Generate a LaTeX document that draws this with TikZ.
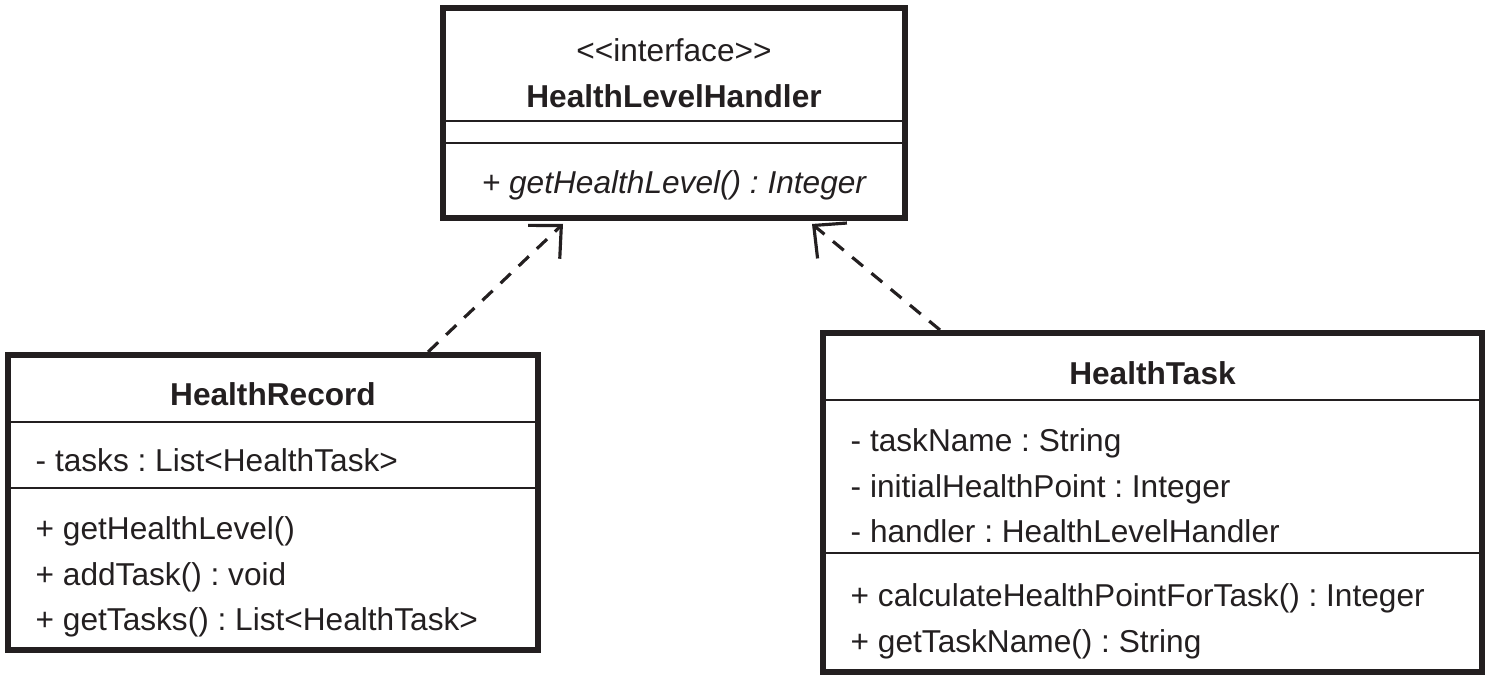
\documentclass[tikz,border=0pt]{standalone}
\usepackage{fontspec}
\setmainfont{Liberation Sans}
\usepackage{tikz}
\usetikzlibrary{positioning,arrows.meta}
\frenchspacing
\definecolor{INK}{HTML}{231F20}
\tikzstyle{cls}=[rectangle, draw=INK, line width=1.7pt, inner sep=0pt]
\tikzstyle{divider}=[draw=INK, line width=0.75pt]
\tikzstyle{member}=[rectangle, inner sep=0pt, minimum height=0.44cm, text height=2.6mm, text depth=0.4mm, text=INK, font=\fontsize{9}{11}\selectfont]
\tikzstyle{cname}=[member, font=\fontsize{9}{11}\selectfont\bfseries]
\tikzstyle{abstract}=[member, font=\fontsize{9}{11}\selectfont\itshape]
\tikzstyle{realize}=[draw=INK, line width=0.9pt, dash pattern=on 0.14cm off 0.11cm, -{Straight Barb[length=2.4mm, width=4.6mm]}]

\begin{document}
\begin{tikzpicture}
      \useasboundingbox (0,0) rectangle (14.91,-6.85);

      %%%%%%%%%%%%%%%%%%%%%%%%%%%%%%%%%%%%%%%%%%%%%%%%%
      % INTERFACE
      %%%%%%%%%%%%%%%%%%%%%%%%%%%%%%%%%%%%%%%%%%%%%%%%%
      \node[cls, minimum width=4.62cm, minimum height=2.10cm] (HLH) at (6.74,-1.13) {};
      \node[member, below=0.23cm of HLH.north] (HLHst) {<\kern0pt<interface>\kern0pt>};
      \node[cname, below=0cm of HLHst] (HLHname) {HealthLevelHandler};
      \coordinate (HLHs1) at ([yshift=-1.16cm]HLH.north west);
      \coordinate (HLHs2) at ([yshift=-1.38cm]HLH.north west);
      \draw[divider] (HLHs1) -- (HLHs1 -| HLH.east);
      \draw[divider] (HLHs2) -- (HLHs2 -| HLH.east);
      \node[abstract, below=0.17cm of HLHs2 -| HLH.north] (HLHm1) {+ getHealthLevel() : Integer};

      %%%%%%%%%%%%%%%%%%%%%%%%%%%%%%%%%%%%%%%%%%%%%%%%%
      % HEALTH RECORD
      %%%%%%%%%%%%%%%%%%%%%%%%%%%%%%%%%%%%%%%%%%%%%%%%%
      \node[cls, minimum width=5.30cm, minimum height=2.95cm] (HR) at (2.73,-5.025) {};
      \node[cname, below=0.20cm of HR.north] (HRname) {HealthRecord};
      \coordinate (HRs1) at ([yshift=-0.70cm]HR.north west);
      \coordinate (HRs2) at ([yshift=-1.36cm]HR.north west);
      \draw[divider] (HRs1) -- (HRs1 -| HR.east);
      \draw[divider] (HRs2) -- (HRs2 -| HR.east);
      % attributes
      \node[member, below right=0.16cm and 0.30cm of HRs1] (HRa1) {- tasks : List<HealthTask>};
      % operations
      \node[member, below right=0.18cm and 0.30cm of HRs2] (HRm1) {+ getHealthLevel()};
      \node[member, below=0cm of HRm1.south west, anchor=north west] (HRm2) {+ addTask() : void};
      \node[member, below=0cm of HRm2.south west, anchor=north west] (HRm3) {+ getTasks() : List<HealthTask>};

      %%%%%%%%%%%%%%%%%%%%%%%%%%%%%%%%%%%%%%%%%%%%%%%%%
      % HEALTH TASK
      %%%%%%%%%%%%%%%%%%%%%%%%%%%%%%%%%%%%%%%%%%%%%%%%%
      \node[cls, minimum width=6.59cm, minimum height=3.39cm] (HT) at (11.525,-5.025) {};
      \node[cname, below=0.21cm of HT.north] (HTname) {HealthTask};
      \coordinate (HTs1) at ([yshift=-0.70cm]HT.north west);
      \coordinate (HTs2) at ([yshift=-2.23cm]HT.north west);
      \draw[divider] (HTs1) -- (HTs1 -| HT.east);
      \draw[divider] (HTs2) -- (HTs2 -| HT.east);
      % attributes
      \node[member, below right=0.18cm and 0.30cm of HTs1] (HTa1) {- taskName : String};
      \node[member, below=0cm of HTa1.south west, anchor=north west] (HTa2) {- initialHealthPoint : Integer};
      \node[member, below=0cm of HTa2.south west, anchor=north west] (HTa3) {- handler : HealthLevelHandler};
      % operations
      \node[member, below right=0.20cm and 0.30cm of HTs2] (HTm1) {+ calculateHealthPointForTask() : Integer};
      \node[member, below=0cm of HTm1.south west, anchor=north west] (HTm2) {+ getTaskName() : String};

      %%%%%%%%%%%%%%%%%%%%%%%%%%%%%%%%%%%%%%%%%%%%%%%%%
      % REALIZATIONS
      %%%%%%%%%%%%%%%%%%%%%%%%%%%%%%%%%%%%%%%%%%%%%%%%%
      \draw[realize] ([xshift=1.55cm]HR.north) -- ([xshift=-1.11cm,yshift=-0.03cm]HLH.south);
      \draw[realize] ([xshift=-2.125cm]HT.north) -- ([xshift=1.38cm,yshift=-0.03cm]HLH.south);

\end{tikzpicture}
\end{document}
